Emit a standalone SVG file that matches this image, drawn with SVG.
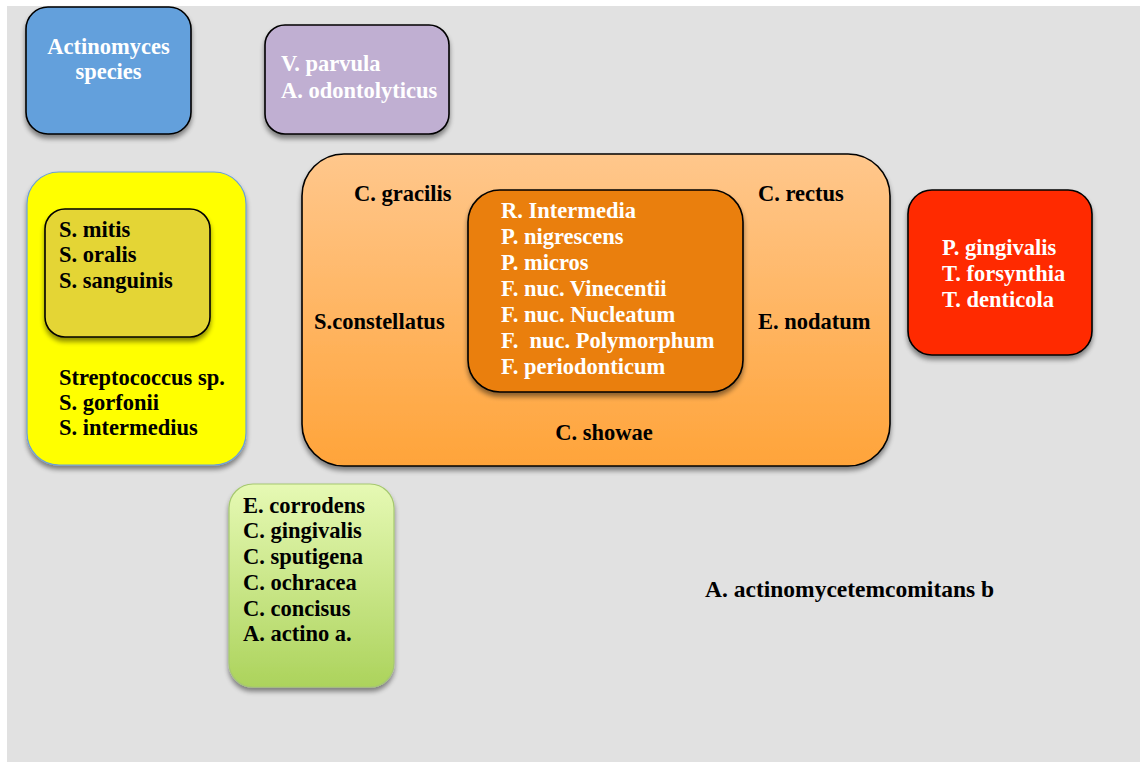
<svg xmlns="http://www.w3.org/2000/svg" width="1140" height="762" viewBox="0 0 1140 762">
<style>
.t{font-family:"Liberation Serif","Times New Roman",serif;font-weight:bold;font-size:22.5px}
.w{fill:#ffffff}
.k{fill:#000000}
.box{stroke:#000;stroke-width:1.6}
</style>
<defs>
<filter id="sh" x="-10%" y="-10%" width="120%" height="130%">
<feGaussianBlur in="SourceAlpha" stdDeviation="2.5"/>
<feOffset dx="0" dy="4" result="b"/>
<feComponentTransfer><feFuncA type="linear" slope="0.45"/></feComponentTransfer>
<feMerge><feMergeNode/><feMergeNode in="SourceGraphic"/></feMerge>
</filter>
<linearGradient id="gOr" x1="0" y1="0" x2="0" y2="1">
<stop offset="0" stop-color="#ffc78c"/>
<stop offset="1" stop-color="#ffa43a"/>
</linearGradient>
<linearGradient id="gGr" x1="0" y1="0" x2="0" y2="1">
<stop offset="0" stop-color="#e6f9b4"/>
<stop offset="1" stop-color="#acd35c"/>
</linearGradient>
</defs>
<rect x="7" y="6" width="1133" height="756" fill="#e1e1e1"/>
<g id="connectors"></g>
<g id="actinomyces">
<rect class="box" x="26" y="7" width="165" height="127" rx="22" fill="#64a0dc" filter="url(#sh)"/>
<text class="t w" x="108.5" y="54" text-anchor="middle">Actinomyces</text>
<text class="t w" x="108.5" y="79" text-anchor="middle">species</text>
</g>
<g id="purple">
<rect class="box" x="265" y="25" width="184" height="109" rx="20" fill="#c0afd2" filter="url(#sh)"/>
<text class="t w" x="281" y="71">V. parvula</text>
<text class="t w" x="281" y="98">A. odontolyticus</text>
</g>
<g id="yellow">
<rect x="27" y="172" width="219" height="293" rx="32" fill="#ffff00" stroke="#6a9fd6" stroke-width="1.2" filter="url(#sh)"/>
<g id="yellow-inner">
<rect class="box" x="45" y="209" width="165" height="128" rx="20" fill="#e4d536" filter="url(#sh)"/>
<text class="t k" x="59" y="237">S. mitis</text>
<text class="t k" x="59" y="262">S. oralis</text>
<text class="t k" x="59" y="288">S. sanguinis</text>
</g>
<text class="t k" x="59" y="385">Streptococcus sp.</text>
<text class="t k" x="59" y="410">S. gorfonii</text>
<text class="t k" x="59" y="435">S. intermedius</text>
</g>
<g id="orange">
<rect class="box" x="302" y="154" width="588" height="312" rx="42" fill="url(#gOr)" filter="url(#sh)"/>
<text class="t k" x="354" y="201">C. gracilis</text>
<text class="t k" x="758" y="201">C. rectus</text>
<text class="t k" x="314" y="329">S.constellatus</text>
<text class="t k" x="758" y="329">E. nodatum</text>
<text class="t k" x="604" y="440" text-anchor="middle">C. showae</text>
<g id="orange-inner">
<rect class="box" x="468" y="190" width="275" height="202" rx="32" fill="#ea7f0a" filter="url(#sh)"/>
<text class="t w" x="501" y="218">R. Intermedia</text>
<text class="t w" x="501" y="244">P. nigrescens</text>
<text class="t w" x="501" y="270">P. micros</text>
<text class="t w" x="501" y="296">F. nuc. Vinecentii</text>
<text class="t w" x="501" y="322">F. nuc. Nucleatum</text>
<text class="t w" x="501" y="348" xml:space="preserve">F.  nuc. Polymorphum</text>
<text class="t w" x="501" y="374">F. periodonticum</text>
</g>
</g>
<g id="red">
<rect class="box" x="908" y="190" width="184" height="165" rx="24" fill="#ff2a00" filter="url(#sh)"/>
<text class="t w" x="942" y="255">P. gingivalis</text>
<text class="t w" x="942" y="281">T. forsynthia</text>
<text class="t w" x="942" y="307">T. denticola</text>
</g>
<g id="green">
<rect x="229" y="484" width="165" height="203" rx="24" fill="url(#gGr)" stroke="#a6c870" stroke-width="1.2" filter="url(#sh)"/>
<text class="t k" x="243" y="513">E. corrodens</text>
<text class="t k" x="243" y="538">C. gingivalis</text>
<text class="t k" x="243" y="564">C. sputigena</text>
<text class="t k" x="243" y="590">C. ochracea</text>
<text class="t k" x="243" y="616">C. concisus</text>
<text class="t k" x="243" y="641">A. actino a.</text>
</g>
<g id="aa">
<text class="t k" x="705" y="597" style="font-size:23.5px">A. actinomycetemcomitans b</text>
</g>
</svg>
